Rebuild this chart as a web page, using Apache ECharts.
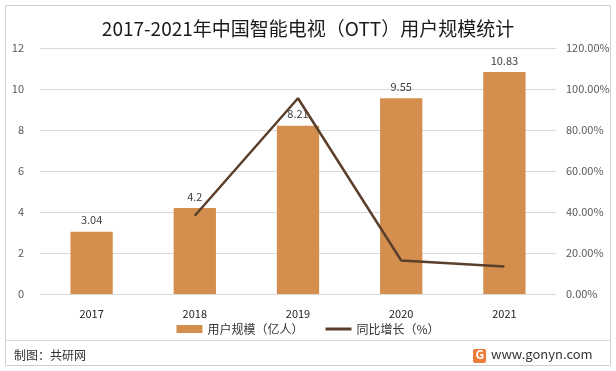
<!DOCTYPE html>
<html><head><meta charset="utf-8">
<script src="https://cdn.jsdelivr.net/npm/echarts@6/dist/echarts.min.js"></script>
<style>html,body{margin:0;padding:0;background:#fff}#c{width:616px;height:371px}</style>
</head><body><div id="c"></div>
<script>
const categories = ['2017','2018','2019','2020','2021'];
const users = [3.04, 4.2, 8.21, 9.55, 10.83];
const growth = [null, 38.16, 95.48, 16.32, 13.40];
const leftTicks = [0, 12, 2];
const rightTicks = [0, 120, 20];

const FONT = '"Noto Sans CJK SC", "Noto Sans", sans-serif';
const chart = echarts.init(document.getElementById('c'));
chart.setOption({
  backgroundColor: '#fff',
  animation: false,
  title: {
    text: '2017-2021年中国智能电视（OTT）用户规模统计',
    left: 'center', top: 14,
    textStyle: {fontFamily: FONT, fontSize: 19, fontWeight: 'normal', color: '#1a1a1a'}
  },
  legend: {
    bottom: 31, left: 'center', itemGap: 22, itemWidth: 26, itemHeight: 8,
    textStyle: {fontFamily: FONT, fontSize: 12, color: '#333'},
    data: [{name: '用户规模（亿人）', icon: 'rect'},
           {name: '同比增长（%）', icon: 'path://M0,0 L26,0 L26,3 L0,3 Z'}]
  },
  grid: {left: 40, right: 60, top: 48, bottom: 77},
  xAxis: {
    type: 'category', data: categories,
    axisLine: {show: false}, axisTick: {show: false},
    axisLabel: {fontFamily: FONT, fontSize: 11, color: '#222', margin: 14}
  },
  yAxis: [{
    type: 'value', min: leftTicks[0], max: leftTicks[1], interval: leftTicks[2],
    axisLine: {show: false}, axisTick: {show: false},
    splitLine: {lineStyle: {color: '#d9d9d9'}},
    axisLabel: {fontFamily: FONT, fontSize: 11, color: '#595959', margin: 16}
  }, {
    type: 'value', min: rightTicks[0], max: rightTicks[1], interval: rightTicks[2],
    axisLine: {show: false}, axisTick: {show: false}, splitLine: {show: false},
    axisLabel: {fontFamily: FONT, fontSize: 11, color: '#595959', margin: 10,
      formatter: v => v.toFixed(2) + '%'}
  }],
  series: [{
    name: '用户规模（亿人）', type: 'bar', data: users, barWidth: '41%',
    itemStyle: {color: '#D48F4F'},
    label: {show: true, position: 'top', fontFamily: FONT, fontSize: 11, color: '#404040', distance: 6}
  }, {
    name: '同比增长（%）', type: 'line', yAxisIndex: 1, data: growth,
    symbol: 'none', lineStyle: {color: '#5B3F2B', width: 2.5}, itemStyle: {color: '#5B3F2B'}
  }],
  graphic: [
    {type: 'rect', shape: {x: 5.5, y: 5.5, width: 605, height: 360}, style: {fill: 'none', stroke: '#cfcfcf', lineWidth: 1}, z: -1},
    {type: 'line', shape: {x1: 5, y1: 340.5, x2: 611, y2: 340.5}, style: {stroke: '#d9d9d9', lineWidth: 1}},
    {type: 'text', left: 14, top: 349, style: {text: '制图：共研网', font: '12px ' + FONT, fill: '#333'}},
    {type: 'rect', shape: {x: 473, y: 349, width: 13, height: 14, r: 2}, style: {fill: '#EF7B3A'}},
    {type: 'text', left: 475.5, top: 348.5, style: {text: 'G', font: 'bold 12px ' + FONT, fill: '#fff'}},
    {type: 'text', left: 491, top: 348, style: {text: 'www.gonyn.com', font: '13px ' + FONT, fill: '#333'}}
  ]
});
</script></body></html>
